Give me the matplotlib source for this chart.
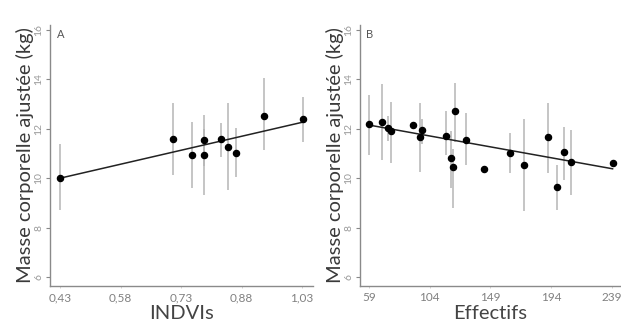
import numpy as np
import matplotlib
matplotlib.use("Agg")
from matplotlib import pyplot as plt

plt.rcParams['font.family'] = ['Lato', 'DejaVu Sans']

# Panel A : INDVIs
indvi = [0.43, 0.71, 0.757, 0.787, 0.787, 0.83, 0.847, 0.866, 0.936, 1.033]
masse_a = [10.0, 11.59, 10.94, 11.55, 10.94, 11.59, 11.26, 11.02, 12.52, 12.40]
low_a = [8.7, 10.13, 9.6, 10.5, 9.32, 10.86, 9.52, 10.05, 11.14, 11.47]
high_a = [11.4, 13.04, 12.28, 12.56, 12.0, 12.23, 13.04, 12.03, 14.06, 13.29]
fit_a_x = [0.43, 1.035]
fit_a_y = [10.0, 12.28]

# Panel B : Effectifs
effectifs = [59, 68.4, 73.3, 75.3, 91.4, 98, 96.8, 116, 120, 121, 122.7, 130.6,
             144.4, 163.4, 173.8, 191.8, 198, 203.4, 209, 239.5]
masse_b = [12.18, 12.28, 12.05, 11.92, 12.17, 11.96, 11.68, 11.71, 10.82, 10.47, 12.72, 11.55,
           10.37, 11.0, 10.55, 11.66, 9.66, 11.06, 10.67, 10.63]
low_b = [10.94, 10.74, 11.5, 10.6, 12.17, 11.4, 10.26, 10.94, 9.6, 8.8, 11.48, 10.53,
         10.37, 10.2, 8.68, 10.22, 8.71, 9.93, 9.32, 10.63]
high_b = [13.37, 13.81, 12.5, 13.1, 12.17, 12.4, 13.04, 12.7, 11.9, 11.2, 13.84, 12.64,
          10.37, 11.83, 12.4, 13.04, 10.53, 12.09, 11.95, 10.63]
fit_b_x = [59, 239.5]
fit_b_y = [12.15, 10.38]

yticks = [6, 8, 10, 12, 14, 16]
xticks_a = [0.43, 0.58, 0.73, 0.88, 1.03]
xticks_b = [59, 104, 149, 194, 239]

fig = plt.figure(figsize=(6.21, 3.29), dpi=100)
ax_a = fig.add_axes([0.0805, 0.131, 0.4235, 0.793])
ax_b = fig.add_axes([0.5797, 0.131, 0.4187, 0.793])

panels = [
    (ax_a, indvi, masse_a, low_a, high_a, fit_a_x, fit_a_y, xticks_a,
     [("%.2f" % t).replace(".", ",") for t in xticks_a], (0.405, 1.057), "INDVIs", "A"),
    (ax_b, effectifs, masse_b, low_b, high_b, fit_b_x, fit_b_y, xticks_b,
     [str(t) for t in xticks_b], (52.3, 245), "Effectifs", "B"),
]

for ax, x, y, lo, hi, fx, fy, xt, xtl, xl, xlab, tag in panels:
    ax.vlines(x, lo, hi, color="#b5b5b5", lw=1.1, zorder=1)
    ax.plot(fx, fy, color="#222222", lw=1.1, zorder=2)
    ax.plot(x, y, "o", color="black", ms=4.4, zorder=3)
    ax.set_xlim(*xl)
    ax.set_ylim(5.64, 16.2)
    ax.set_yticks(yticks)
    ax.set_yticklabels([str(t) for t in yticks], rotation=90, va="center",
                       color="#999999", fontsize=7.5)
    ax.set_xticks(xt)
    ax.set_xticklabels(xtl, color="#808080", fontsize=8.5)
    ax.tick_params(axis="y", length=3, width=0.8, color="#888888", pad=2)
    ax.tick_params(axis="x", length=1.5, width=0.6, color="#cccccc", pad=3)
    for s in ["top", "right"]:
        ax.spines[s].set_visible(False)
    for s in ["left", "bottom"]:
        ax.spines[s].set_color("#8a8a8a")
        ax.spines[s].set_linewidth(1.0)
    ax.set_xlabel(xlab, fontsize=14.5, color="#444444", labelpad=1)
    ax.set_ylabel("Masse corporelle ajustée (kg)", fontsize=14.5, color="#3a3a3a", labelpad=0)
    ax.text(0.025, 0.985, tag, transform=ax.transAxes, fontsize=8, color="#555555",
            va="top", ha="left")

fig.savefig("out.png", dpi=100)
